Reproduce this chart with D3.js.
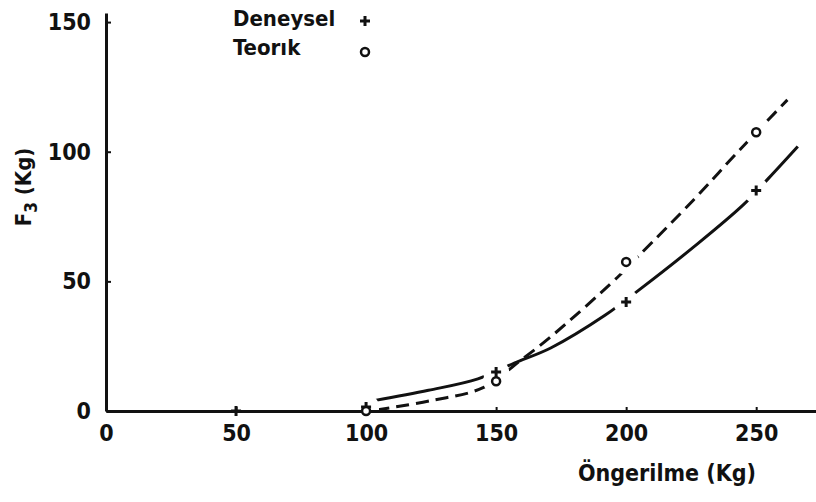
<!DOCTYPE html>
<html><head><meta charset="utf-8">
<script src="https://cdn.jsdelivr.net/npm/d3@7"></script>
<style>
html,body{margin:0;padding:0;background:#fff;}
svg text{font-family:"DejaVu Sans Condensed","DejaVu Sans",sans-serif;font-stretch:condensed;font-weight:bold;fill:#111;}
</style></head>
<body><svg id="c" width="816" height="502"></svg>
<script>
// ---- data ----
const xTicks = [0, 50, 100, 150, 200, 250];
const yTicks = [0, 50, 100, 150];
const deneyselX = [50, 100, 150, 200, 250];
const deneyselY = [0, 1.5, 15, 42, 85];
const teorikX = [100, 150, 200, 250];
const teorikY = [0, 11.5, 57.5, 107.5];
// fitted curves
const solidCurveX = [103, 124, 143, 157, 171, 192, 205, 226, 245, 255, 266];
const solidCurveY = [4, 8, 12.4, 18.5, 24.3, 37, 46.7, 63.3, 79.5, 90, 102];
const dashCurveX = [104, 125, 145, 160, 171, 196.5, 205, 226, 243, 262];
const dashCurveY = [0.4, 4, 9, 20, 28.6, 51.4, 60, 81.5, 100, 120];
const legendLabels = ["Deneysel", "Teorık"];
const xTitle = "Öngerilme (Kg)";

const svg = d3.select("#c");
const x = d3.scaleLinear().domain([0, 273]).range([106, 816]);
const y = d3.scaleLinear().domain([0, 153.5]).range([411, 13]);
const ink = "#111";

const line = d3.line().x(d => x(d[0])).y(d => y(d[1])).curve(d3.curveCatmullRom);
svg.append("path").datum(solidCurveX.map((v, i) => [v, solidCurveY[i]]))
  .attr("d", line).attr("fill", "none").attr("stroke", ink).attr("stroke-width", 3);
svg.append("path").datum(dashCurveX.map((v, i) => [v, dashCurveY[i]]))
  .attr("d", line).attr("fill", "none").attr("stroke", ink).attr("stroke-width", 3)
  .attr("stroke-dasharray", "13,7");

// halos to break curves around markers
const allPts = deneyselX.map((v, i) => [v, deneyselY[i]]).concat(teorikX.map((v, i) => [v, teorikY[i]]));
svg.selectAll(".halo").data(allPts).enter().append("circle")
  .attr("cx", d => x(d[0])).attr("cy", d => y(d[1])).attr("r", 13).attr("fill", "#fff");

// axes
const xAxis = d3.axisBottom(x).tickValues(xTicks).tickSizeInner(-4).tickSizeOuter(0).tickPadding(14);
const gx = svg.append("g").attr("transform", `translate(0,${y(0)})`).call(xAxis);
const yAxis = d3.axisLeft(y).tickValues(yTicks).tickSizeInner(-5).tickSizeOuter(0).tickPadding(15);
const gy = svg.append("g").attr("transform", `translate(${x(0)},0)`).call(yAxis);
[gx, gy].forEach(g => {
  g.select(".domain").attr("stroke", ink).attr("stroke-width", 3);
  g.selectAll(".tick line").attr("stroke", ink).attr("stroke-width", 2);
  g.selectAll(".tick text").attr("font-size", 23).attr("fill", ink)
    .style("font-family", '"DejaVu Sans Condensed","DejaVu Sans",sans-serif').style("font-weight", "bold");
});

// markers
function plus(sel, s) {
  sel.append("path").attr("d", `M${-s},0H${s}M0,${-s}V${s}`).attr("stroke", ink).attr("stroke-width", 3).attr("fill", "none");
}
deneyselX.forEach((v, i) => {
  const g = svg.append("g").attr("transform", `translate(${x(v)},${y(deneyselY[i])})`);
  plus(g, 5);
});
teorikX.forEach((v, i) => {
  svg.append("circle").attr("cx", x(v)).attr("cy", y(teorikY[i])).attr("r", 4)
    .attr("fill", "#fff").attr("stroke", ink).attr("stroke-width", 2.5);
});

// legend
svg.append("text").attr("x", 233).attr("y", 26).attr("font-size", 22).text(legendLabels[0]);
svg.append("text").attr("x", 233).attr("y", 55).attr("font-size", 22).text(legendLabels[1]);
plus(svg.append("g").attr("transform", "translate(365,21)"), 5);
svg.append("circle").attr("cx", 365).attr("cy", 52).attr("r", 4).attr("fill", "#fff").attr("stroke", ink).attr("stroke-width", 2.5);

// axis titles
svg.append("text").attr("x", 667).attr("y", 481).attr("text-anchor", "middle").attr("font-size", 23).text(xTitle);
const yt = svg.append("text").attr("transform", "translate(31,187) rotate(-90)").attr("text-anchor", "middle").attr("font-size", 22);
yt.append("tspan").text("F");
yt.append("tspan").attr("dy", 6).attr("font-size", 17).text("3");
yt.append("tspan").attr("dy", -6).text(" (Kg)");
</script></body></html>
